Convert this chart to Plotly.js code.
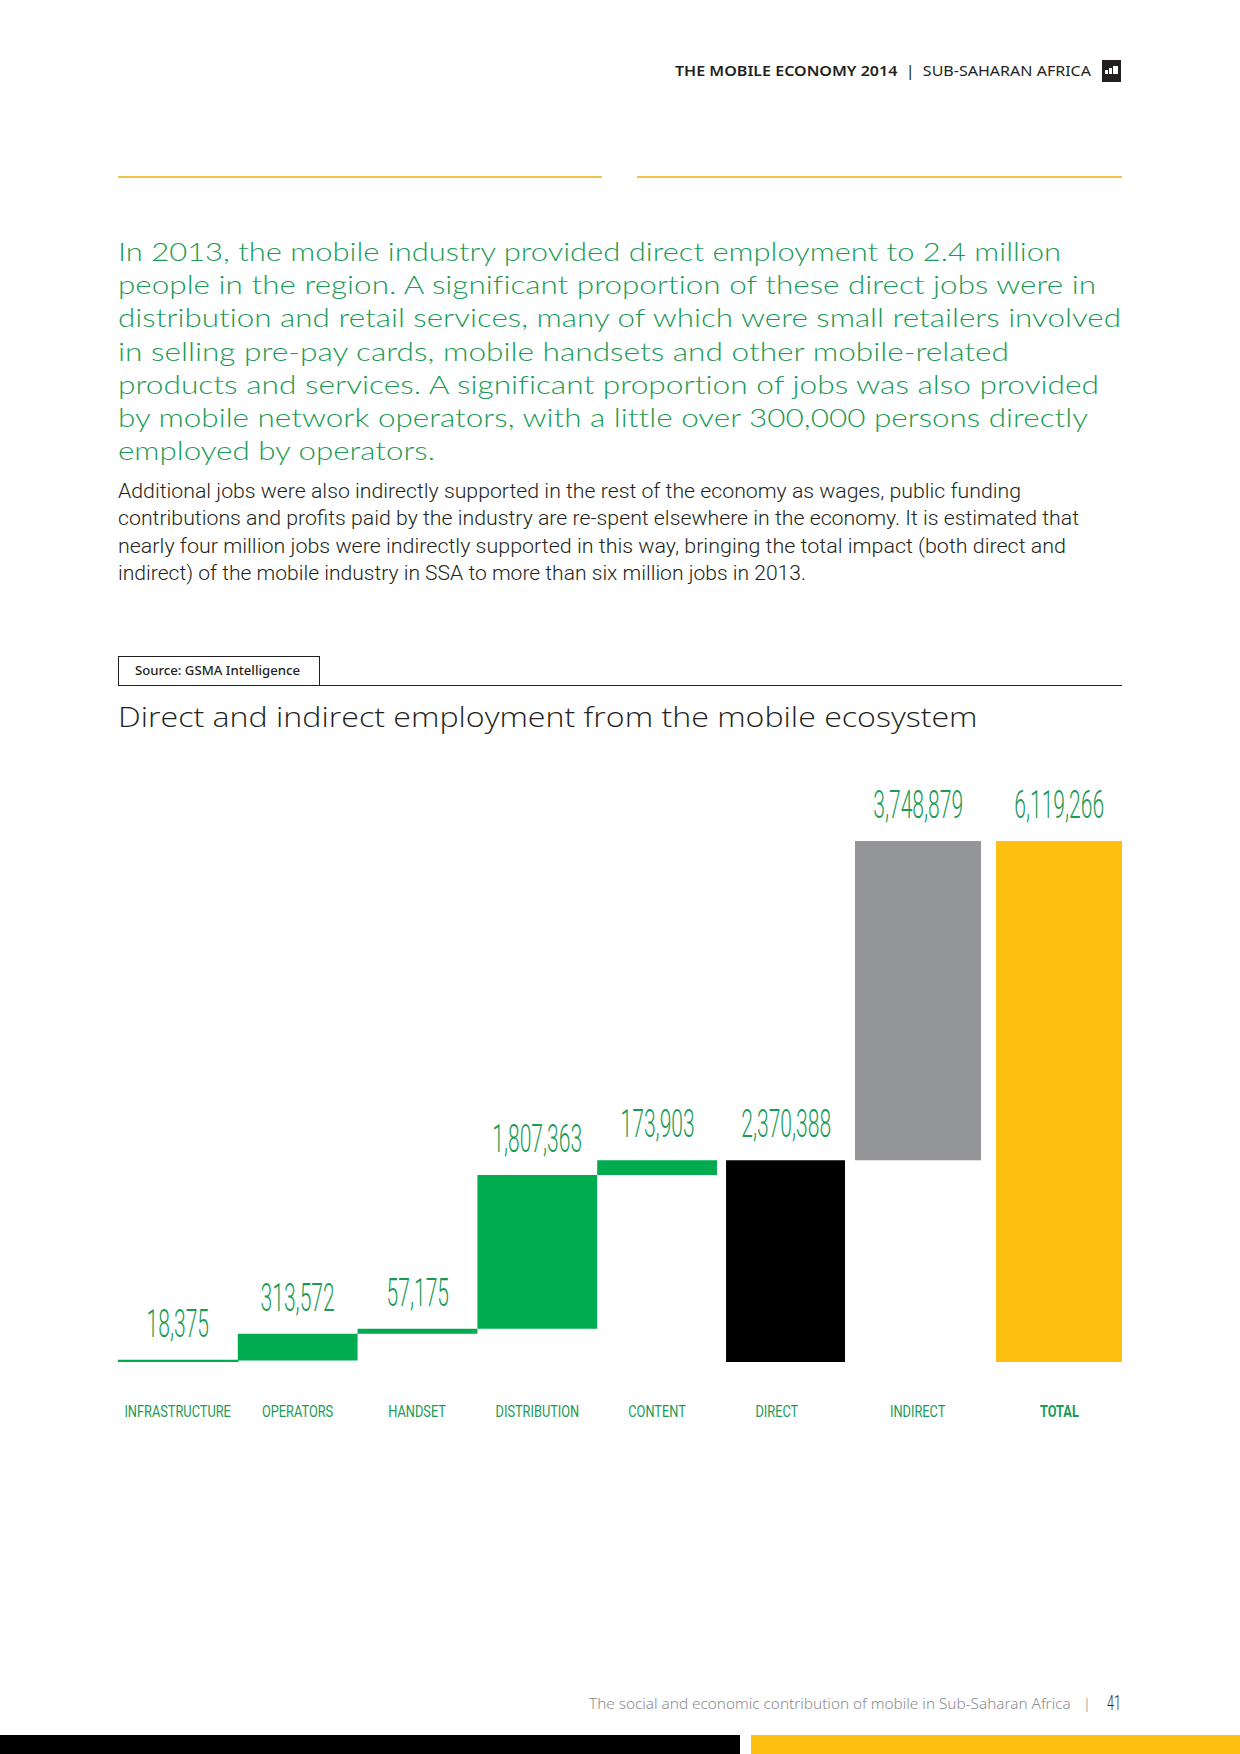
<!DOCTYPE html>
<html>
<head>
<meta charset="utf-8">
<script src="https://cdn.plot.ly/plotly-3.0.1.min.js"></script>
<style>
  html, body { margin:0; padding:0; background:#ffffff; }
  body { width:1240px; height:1754px; position:relative; overflow:hidden; }
  .abs { position:absolute; white-space:nowrap; }
  .green { font-family:Lato, 'Open Sans', sans-serif; font-size:25.5px; line-height:33px; color:#1a9b55; font-weight:300; font-variant-ligatures:none; font-feature-settings:"liga" 0, "dlig" 0; }
  .body { font-family:Roboto, 'Noto Sans', sans-serif; font-size:20px; line-height:27px; color:#231f20; font-weight:300; }
</style>
</head>
<body>
<script>
// ---------------- DATA ----------------
const categories = ['INFRASTRUCTURE', 'OPERATORS', 'HANDSET', 'DISTRIBUTION', 'CONTENT', 'DIRECT', 'INDIRECT', 'TOTAL'];
const values = [18375, 313572, 57175, 1807363, 173903, 2370388, 3748879, 6119266];
const measures = ['relative', 'relative', 'relative', 'relative', 'relative', 'total', 'relative', 'total'];
const chartTitle = 'Direct and indirect employment from the mobile ecosystem';
const sourceText = 'Source: GSMA Intelligence';
const headerBold = 'THE MOBILE ECONOMY 2014';
const headerRegular = 'SUB-SAHARAN AFRICA';
const greenLines = [
  'In 2013, the mobile industry provided direct employment to 2.4 million',
  'people in the region. A significant proportion of these direct jobs were in',
  'distribution and retail services, many of which were small retailers involved',
  'in selling pre-pay cards, mobile handsets and other mobile-related',
  'products and services. A significant proportion of jobs was also provided',
  'by mobile network operators, with a little over 300,000 persons directly',
  'employed by operators.'
];
const bodyLines = [
  'Additional jobs were also indirectly supported in the rest of the economy as wages, public funding',
  'contributions and profits paid by the industry are re-spent elsewhere in the economy. It is estimated that',
  'nearly four million jobs were indirectly supported in this way, bringing the total impact (both direct and',
  'indirect) of the mobile industry in SSA to more than six million jobs in 2013.'
];
const footerText = 'The social and economic contribution of mobile in Sub-Saharan Africa';
const pageNumber = '41';
</script>

<!-- header -->
<div class="abs" id="hdr" data-w="416" style="left:675px; top:61px; font-family:'Noto Sans',sans-serif; font-size:14px; line-height:19px; color:#231f20;"></div>
<div class="abs" style="left:1102px; top:60px; width:19px; height:22px; background:#231f20;">
  <div style="position:absolute; left:3px; top:10px; width:3px; height:4px; background:#fff;"></div>
  <div style="position:absolute; left:7px; top:8px; width:3px; height:6px; background:#fff;"></div>
  <div style="position:absolute; left:11px; top:6px; width:5px; height:8px; background:#fff;"></div>
</div>

<!-- yellow rules -->
<div class="abs" style="left:118px; top:176px; width:484px; height:2px; background:#f3c445;"></div>
<div class="abs" style="left:637px; top:176px; width:485px; height:2px; background:#f3c445;"></div>

<div id="greenBox"></div>
<div id="bodyBox"></div>

<!-- source box -->
<div class="abs" style="left:118px; top:656px; width:202px; height:30px; box-sizing:border-box; border:1px solid #231f20;"></div>
<div class="abs" id="src" data-w="165" style="left:135px; top:662px; font-family:'Noto Sans',sans-serif; font-size:12.5px; line-height:17px; font-weight:500; color:#231f20;"></div>
<div class="abs" style="left:118px; top:685px; width:1004px; height:1px; background:#231f20;"></div>

<!-- chart -->
<div id="chart" style="position:absolute; left:0; top:690px; width:1240px; height:770px;"></div>

<!-- footer -->
<div class="abs" id="foot" data-w="502" style="left:589px; top:1693px; font-family:'Noto Sans',sans-serif; font-size:15px; line-height:20px; font-weight:300; color:#8a8c8e;"></div>
<div class="abs" id="pg" data-w="14" style="left:1107px; top:1690px; font-family:Roboto,sans-serif; font-size:21px; line-height:26px; font-weight:300; color:#231f20;"></div>
<div class="abs" style="left:0; top:1735px; width:740px; height:19px; background:#000;"></div>
<div class="abs" style="left:751px; top:1735px; width:489px; height:19px; background:#fdc010;"></div>

<script>
// text blocks
document.getElementById('hdr').innerHTML = '<b style="font-weight:600">' + headerBold + '</b>&nbsp;&nbsp;|&nbsp;&nbsp;' + headerRegular;
document.getElementById('src').textContent = sourceText;
document.getElementById('foot').innerHTML = footerText + '&nbsp;&nbsp;&nbsp;|';
document.getElementById('pg').textContent = pageNumber;

const greenW = [943, 978, 1003, 891, 981, 970, 317];
const greenBox = document.getElementById('greenBox');
greenLines.forEach((t, i) => {
  const d = document.createElement('div');
  d.className = 'abs green';
  d.style.left = '118px';
  d.style.top = (251.5 + 33.2 * i - 16.5) + 'px';
  d.dataset.w = greenW[i];
  d.textContent = t;
  greenBox.appendChild(d);
});
const bodyW = [903, 961, 948, 688];
const bodyBox = document.getElementById('bodyBox');
bodyLines.forEach((t, i) => {
  const d = document.createElement('div');
  d.className = 'abs body';
  d.style.left = '118px';
  d.style.top = (491 + 27.6 * i - 13.5) + 'px';
  d.dataset.w = bodyW[i];
  d.textContent = t;
  bodyBox.appendChild(d);
});

function fitAll() {
  document.querySelectorAll('[data-w]').forEach(el => {
    el.style.transform = '';
    const w = el.getBoundingClientRect().width;
    el.style.transformOrigin = 'left center';
    el.style.transform = 'scaleX(' + (parseFloat(el.dataset.w) / w) + ')';
  });
}
fitAll();

// ---------------- CHART ----------------
const bases = [];
const heights = [];
let running = 0;
values.forEach((v, i) => {
  if (measures[i] === 'total') { bases.push(0); heights.push(v); running = v; }
  else { bases.push(running); heights.push(v); running += v; }
});
const barColors = ['#00ac4f', '#00ac4f', '#00ac4f', '#00ac4f', '#00ac4f', '#000000', '#939598', '#fdc010'];
// minimum visible thickness for the thinnest bar (outline in same colour)
const barLineWidth = [1.5, 0, 0, 0, 0, 0, 0, 0];
// bar geometry (category units): shift of centre and width
const centreShift = [0, 0, 0, 0, 0, 0.072, 0.178, 0.355];
const barWidth = [1, 1, 1, 1, 1, 0.993, 1.052, 1.052];
const labelShift = [0, 0, 0, 0, 0, 0, 0.178, 0.355];

const trace = {
  type: 'bar',
  x: categories,
  y: heights,
  base: bases,
  width: barWidth,
  offset: barWidth.map((w, i) => centreShift[i] - w / 2),
  marker: { color: barColors, line: { width: barLineWidth, color: barColors } },
  hoverinfo: 'none'
};

const green = '#1a9b55';
const annotations = [];
const annScale = [];
values.forEach((v, i) => {
  annotations.push({
    x: i + centreShift[i], y: bases[i] + heights[i], xref: 'x', yref: 'y',
    text: v.toLocaleString('en-US'), showarrow: false,
    xanchor: 'center', yanchor: 'bottom', yshift: 11,
    font: { family: 'Roboto, sans-serif', size: 39, color: green, weight: 300 }
  });
  annScale.push(0.54);
});
categories.forEach((c, i) => {
  annotations.push({
    x: i + labelShift[i], y: 0, xref: 'x', yref: 'y',
    text: c, showarrow: false,
    xanchor: 'center', yanchor: 'middle', yshift: -49,
    font: { family: 'Roboto, sans-serif', size: 16, color: green, weight: c === 'TOTAL' ? 700 : 400 }
  });
  annScale.push(0.8);
});

const layout = {
  width: 1240, height: 770,
  margin: { l: 118, r: 118, t: 110, b: 98, pad: 0 },
  paper_bgcolor: 'rgba(0,0,0,0)', plot_bgcolor: 'rgba(0,0,0,0)',
  showlegend: false,
  bargap: 0,
  title: {
    text: chartTitle, x: 0, xref: 'paper', xanchor: 'left',
    y: 1 - 28 / 770, yref: 'container', yanchor: 'middle',
    font: { family: "'Open Sans', 'Noto Sans', sans-serif", size: 27, color: '#231f20', weight: 350 }
  },
  xaxis: { type: 'category', range: [-0.5, 7.8806], showticklabels: false, showgrid: false, zeroline: false, showline: false, ticks: '', fixedrange: true },
  yaxis: { range: [0, 6600000], visible: false, fixedrange: true },
  annotations: annotations
};

Plotly.newPlot('chart', [trace], layout, { staticPlot: true, displayModeBar: false }).then(gd => {
  gd.querySelectorAll('g.annotation').forEach(g => {
    const i = +g.getAttribute('data-index');
    const s = annScale[i];
    const t = g.querySelector('text.annotation-text');
    if (!t) return;
    const bb = t.getBBox();
    const cx = bb.x + bb.width / 2;
    t.setAttribute('transform', 'translate(' + cx + ',0) scale(' + s + ',1) translate(' + (-cx) + ',0)');
  });
  const tt = gd.querySelector('.gtitle');
  if (tt) {
    const bb = tt.getBBox();
    const s = 860 / bb.width;
    const x0 = bb.x;
    tt.setAttribute('transform', 'translate(' + x0 + ',0) scale(' + s + ',1) translate(' + (-x0) + ',0)');
  }
});
if (document.fonts && document.fonts.ready) document.fonts.ready.then(fitAll);
</script>
</body>
</html>
